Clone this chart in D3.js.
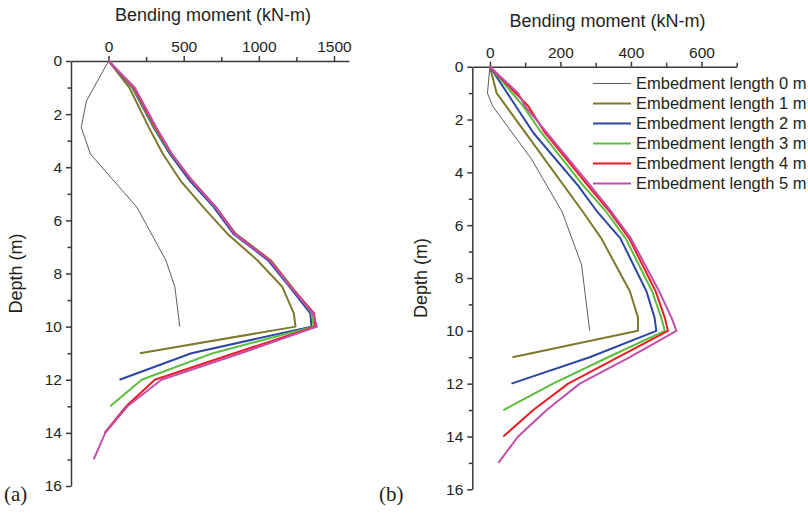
<!DOCTYPE html>
<html>
<head>
<meta charset="utf-8">
<script src="https://cdn.jsdelivr.net/npm/d3@7"></script>
<style>
  body { margin: 0; background: #fff; }
  text { font-family: Arial, "Liberation Sans", sans-serif; fill: #231f20; }
  .axis path, .axis line { stroke: #3a3a3a; stroke-width: 1.5; }
  .axis text { font-family: Arial, "Liberation Sans", sans-serif; font-size: 15.5px; fill: #231f20; }
</style>
</head>
<body>
<div id="chart"></div>
<script>
// labels
let seriesNames = ["Embedment length 0 m", "Embedment length 1 m", "Embedment length 2 m",
  "Embedment length 3 m", "Embedment length 4 m", "Embedment length 5 m"];
let seriesColors = ["#4a4a4a", "#7d7a2c", "#2d46a3", "#5bbd3c", "#ec1c24", "#c24fae"];
let leftMomentTicks = [0, 500, 1000, 1500];
let rightMomentTicks = [0, 200, 400, 600];
let depthTicks = [0, 2, 4, 6, 8, 10, 12, 14, 16];

// panel (a): depth (m) and bending moment (kN-m) per embedment length
let depthsA = [
  [0, 1.5, 2.5, 3.5, 5.5, 7.5, 8.5, 10],
  [0, 1, 2.5, 3.5, 4.5, 5.5, 6.5, 7.5, 8.5, 9.5, 10, 11],
  [0, 1, 2.5, 3.5, 4.5, 5.5, 6.5, 7.5, 8.5, 9.5, 10, 11, 12],
  [0, 1, 2.5, 3.5, 4.5, 5.5, 6.5, 7.5, 8.5, 9.5, 10, 11, 12, 13],
  [0, 1, 2.5, 3.5, 4.5, 5.5, 6.5, 7.5, 8.5, 9.5, 10, 11, 12, 13, 14],
  [0, 1, 2.5, 3.5, 4.5, 5.5, 6.5, 7.5, 8.5, 9.5, 10, 11, 12, 13, 14, 15]
];
let momentsA = [
  [0, -147, -182, -121, 188, 381, 441, 474],
  [0, 138, 268, 362, 478, 630, 790, 990, 1156, 1233, 1244, 209],
  [0, 158, 300, 408, 540, 700, 830, 1060, 1205, 1343, 1350, 551, 73],
  [0, 162, 306, 416, 555, 710, 845, 1080, 1220, 1355, 1365, 694, 220, 11],
  [0, 168, 312, 420, 555, 715, 842, 1075, 1215, 1368, 1376, 837, 308, 117, -26],
  [0, 174, 318, 422, 552, 712, 838, 1070, 1212, 1360, 1387, 880, 352, 126, -22, -99]
];

// panel (b)
let depthsB = [
  [0, 1, 1.5, 3.5, 5.5, 7.5, 10],
  [0, 1, 3.5, 5.5, 6.5, 8.5, 9.5, 10, 11],
  [0, 2.5, 4.5, 5.5, 6.5, 8.5, 9.5, 10, 11, 12],
  [0, 1.5, 2.5, 4.5, 5.5, 6.5, 8.5, 9.5, 10, 11, 12, 13],
  [0, 1.5, 2.5, 4.5, 5.5, 6.5, 8.5, 9.5, 10, 11, 12, 13, 14],
  [0, 1, 1.5, 4.5, 5.5, 6.5, 8.5, 9.5, 10, 11, 12, 13, 14, 15]
];
let momentsB = [
  [0, -7, 8, 118, 205, 260, 283],
  [0, 19, 155, 264, 316, 397, 420, 420, 64],
  [0, 123, 250, 305, 370, 444, 467, 472, 283, 61],
  [0, 95, 146, 265, 330, 385, 460, 486, 496, 335, 179, 38],
  [0, 109, 156, 278, 340, 395, 470, 496, 505, 364, 222, 123, 38],
  [0, 80, 100, 285, 345, 400, 480, 515, 529, 397, 255, 161, 80, 24]
];

let svg = d3.select("#chart").append("svg")
  .attr("width", 808)
  .attr("height", 513);

function drawPanel(p) {
  let x = d3.scaleLinear().domain(p.xDomain).range([p.left, p.right]);
  let y = d3.scaleLinear().domain([0, 16]).range([p.top, p.bottom]);

  // minor ticks first
  svg.append("g")
    .attr("class", "axis")
    .attr("transform", "translate(0," + p.top + ")")
    .call(d3.axisTop(x).tickValues(p.minorX).tickSize(4).tickFormat(""))
    .select(".domain").remove();
  svg.append("g")
    .attr("class", "axis")
    .attr("transform", "translate(" + p.left + ",0)")
    .call(d3.axisLeft(y).tickValues(d3.range(1, 16, 2)).tickSize(3.5).tickFormat(""))
    .select(".domain").remove();

  svg.append("g")
    .attr("class", "axis")
    .attr("transform", "translate(0," + p.top + ")")
    .call(d3.axisTop(x).tickValues(p.xTicks).tickFormat(d3.format("d"))
      .tickSize(5).tickPadding(4).tickSizeOuter(0));
  svg.append("g")
    .attr("class", "axis")
    .attr("transform", "translate(" + p.left + ",0)")
    .call(d3.axisLeft(y).tickValues(depthTicks).tickFormat(d3.format("d"))
      .tickSize(5).tickPadding(4).tickSizeOuter(0));

  let line = d3.line()
    .x(function (d) { return x(d[1]); })
    .y(function (d) { return y(d[0]); });

  p.depths.forEach(function (ds, i) {
    let pts = ds.map(function (dv, j) { return [dv, p.moments[i][j]]; });
    svg.append("path")
      .datum(pts)
      .attr("fill", "none")
      .attr("stroke", seriesColors[i])
      .attr("stroke-width", i == 0 ? 0.9 : 2)
      .attr("stroke-linejoin", "round")
      .attr("d", line);
  });

  svg.append("text")
    .attr("x", (p.left + p.right) / 2 + 3)
    .attr("y", p.titleY)
    .attr("text-anchor", "middle")
    .style("font-size", "18px")
    .text("Bending moment (kN-m)");

  svg.append("text")
    .attr("transform", "translate(" + p.yLabelX + "," + ((p.top + p.bottom) / 2) + ") rotate(-90)")
    .attr("text-anchor", "middle")
    .style("font-size", "18px")
    .text("Depth (m)");

  svg.append("text")
    .attr("x", p.tagX)
    .attr("y", 501)
    .style("font-family", "'Liberation Serif', 'Times New Roman', serif")
    .style("font-size", "21px")
    .text(p.tag);
}

drawPanel({
  xDomain: [-250, 1600], left: 71, right: 349, top: 61, bottom: 486,
  xTicks: leftMomentTicks, minorX: [250, 750, 1250],
  depths: depthsA, moments: momentsA,
  titleY: 21, yLabelX: 22, tag: "(a)", tagX: 4
});

drawPanel({
  xDomain: [-50, 700], left: 472.3, right: 736.7, top: 66.7, bottom: 489.3,
  xTicks: rightMomentTicks, minorX: [100, 300, 500, 700],
  depths: depthsB, moments: momentsB,
  titleY: 27, yLabelX: 427, tag: "(b)", tagX: 379
});

// legend
let legend = svg.append("g");
seriesNames.forEach(function (name, i) {
  let ly = 83.5 + i * 20;
  legend.append("line")
    .attr("x1", 593).attr("x2", 631)
    .attr("y1", ly).attr("y2", ly)
    .attr("stroke", seriesColors[i])
    .attr("stroke-width", i == 0 ? 0.9 : 2);
  legend.append("text")
    .attr("x", 636)
    .attr("y", ly)
    .attr("dy", "0.35em")
    .style("font-size", "16.5px")
    .text(name);
});
</script>
</body>
</html>
